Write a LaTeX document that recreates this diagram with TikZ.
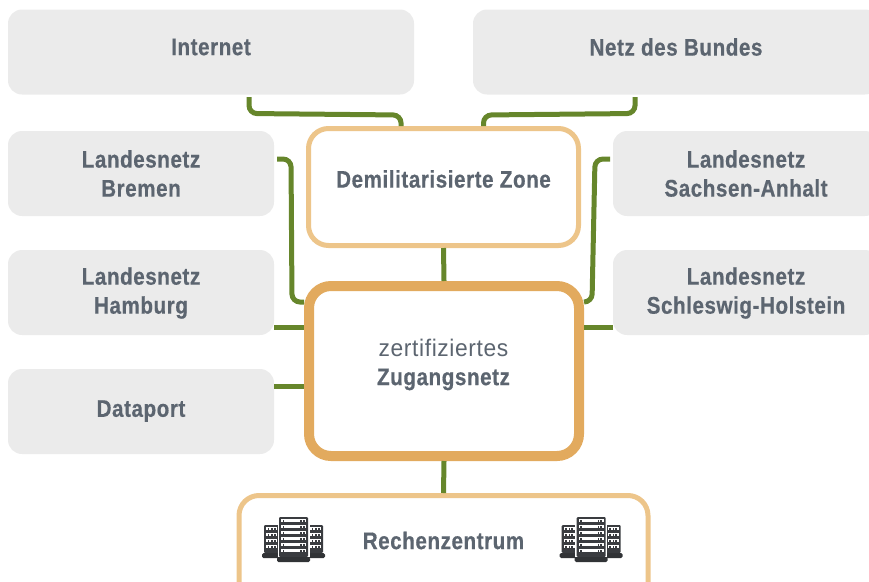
\documentclass[tikz,border=0pt]{standalone}
\usepackage{fontspec}
\setmainfont{Liberation Sans}[FakeStretch=0.86,LetterSpace=2.3,BoldFeatures={FakeBold=0.5}]
\newfontfamily\lightfont{Liberation Sans}[FakeStretch=0.95,LetterSpace=2.6]
\usetikzlibrary{calc}
\definecolor{boxgrey}{HTML}{EBEBEB}
\definecolor{ringlight}{HTML}{EDC58A}
\definecolor{ringdark}{HTML}{E2AA5E}
\definecolor{linkgreen}{HTML}{66862B}
\definecolor{textgrey}{HTML}{5C6570}
\definecolor{rackdark}{HTML}{3A3C40}
\tikzset{
  x=1pt,y=1pt,
  base/.style={inner sep=0pt,outer sep=0pt,align=center,text=textgrey,
     font=\fontsize{24}{29}\selectfont\bfseries},
  greybox/.style={base,fill=boxgrey,rounded corners=14pt,minimum height=85pt},
  wide/.style={greybox,minimum width=406pt},
  narrow/.style={greybox,minimum width=266pt},
  ringone/.style={base,draw=ringlight,line width=5pt,outer sep=2.5pt,fill=white,rounded corners=20pt},
  ringtwo/.style={base,draw=ringdark,line width=10pt,outer sep=5pt,fill=white,rounded corners=22pt},
  link/.style={draw=linkgreen,line width=5pt,rounded corners=8pt},
  pics/rack/.style n args={3}{code={%
     \fill[rackdark,rounded corners=1.2pt] (-#1,0) rectangle (#1,#2);
     \foreach \r in {1,...,#3}{
       \fill[white] ({-#1+2},{#2-6*\r+1}) rectangle ({#1-2},{#2-6*\r+4.2});
       \fill[rackdark] ({-#1+3.5},{#2-6*\r+1.5}) rectangle ({-#1+5},{#2-6*\r+3.5});
       \fill[rackdark] ({#1-8},{#2-6*\r+1.5}) rectangle ({#1-6.5},{#2-6*\r+3.5});
       \fill[rackdark] ({#1-5.5},{#2-6*\r+1.5}) rectangle ({#1-3.5},{#2-6*\r+3.5});
     }
  }},
  pics/servers/.style={code={%
     \fill[rackdark!85!black,rounded corners=1.5pt] (0,-553) rectangle (63,-558);
     \pic at (9.5,-553) {rack={7.5}{28}{4}};
     \pic at (53.5,-553) {rack={7.5}{28}{4}};
     \fill[white] (15.5,-557) rectangle (47.5,-517);
     \pic at (31.5,-557) {rack={14.5}{40}{6}};
     \fill[rackdark!85!black,rounded corners=1.5pt] (15,-557) rectangle (48,-562);
  }}
}
\begin{document}
\begin{tikzpicture}
\useasboundingbox (0,0) rectangle (869,-581);
\clip (0,0) rectangle (869,-581);
\node[wide] (inet) at (211,-52) {};
\node[base] (inettext) at (211,-47) {Internet};
\node[wide] (bund) at (676,-52) {};
\node[base] (bundtext) at (676,-47) {Netz des Bundes};
\node[narrow] (bremen) at (141,-173.5) {Landesnetz\\Bremen};
\node[narrow] (hamburg) at (141,-292.5) {};
\node[base] (hamburgtext) at (141,-293) {Landesnetz\\Hamburg};
\node[narrow] (dataport) at (141,-411.5) {};
\node[base] (dataporttext) at (141,-411) {Dataport};
\node[narrow] (sachsen) at (746,-173.5) {Landesnetz\\Sachsen-Anhalt};
\node[narrow] (schleswig) at (746,-292.5) {};
\node[base] (schleswigtext) at (746,-293) {Landesnetz\\Schleswig-Holstein};
\node[ringone,minimum width=270pt,minimum height=117pt] (dmz) at (443.5,-187) {};
\node[base] (dmztext) at (443.5,-179) {Demilitarisierte Zone};
\node[ringtwo,minimum width=270pt,minimum height=170pt] (zug) at (444,-371) {};
\node[base] (zugtext) at (443.5,-364.5) {{\lightfont\mdseries zertifiziertes}\\Zugangsnetz};
\node[ringone,minimum width=409pt,minimum height=110pt,text depth=0pt] (rz) at (443.5,-550.5) {};
\node[base] (rzt) at (443.5,-540.5) {Rechenzentrum};
\coordinate (a1) at (249,-97);  \coordinate (a2) at (249,-113.5); \coordinate (a3) at (401,-115); \coordinate (a4) at (401,-100);
\coordinate (b1) at (635,-97);  \coordinate (b2) at (635,-113.5); \coordinate (b3) at (483.5,-115); \coordinate (b4) at (483.5,-100);
\draw[link] (a1) -- (a2) -- (a3) -- (a4 |- dmz.north);
\draw[link] (b1) -- (b2) -- (b3) -- (b4 |- dmz.north);
\coordinate (c1) at (277,-159); \coordinate (c2) at (291,-159); \coordinate (c3) at (292,-302);
\draw[link] (c1) -- (c2) -- (c3) -- (c3 -| zug.west);
\coordinate (d1) at (610,-159); \coordinate (d2) at (595,-159); \coordinate (d3) at (592,-302);
\draw[link] (d1) -- (d2) -- (d3) -- (d3 -| zug.east);
\coordinate (e) at (0,-327); \coordinate (f) at (0,-386);
\draw[link] (e -| hamburg.east) -- (e -| zug.west);
\draw[link] (e -| schleswig.west) -- (e -| zug.east);
\draw[link] (f -| dataport.east) -- (f -| zug.west);
\draw[link] (dmz.south) -- (zug.north);
\draw[link] (zug.south) -- (rz.north);
\pic at (262,0) {servers};
\pic at (559.7,0) {servers};
\end{tikzpicture}
\end{document}
